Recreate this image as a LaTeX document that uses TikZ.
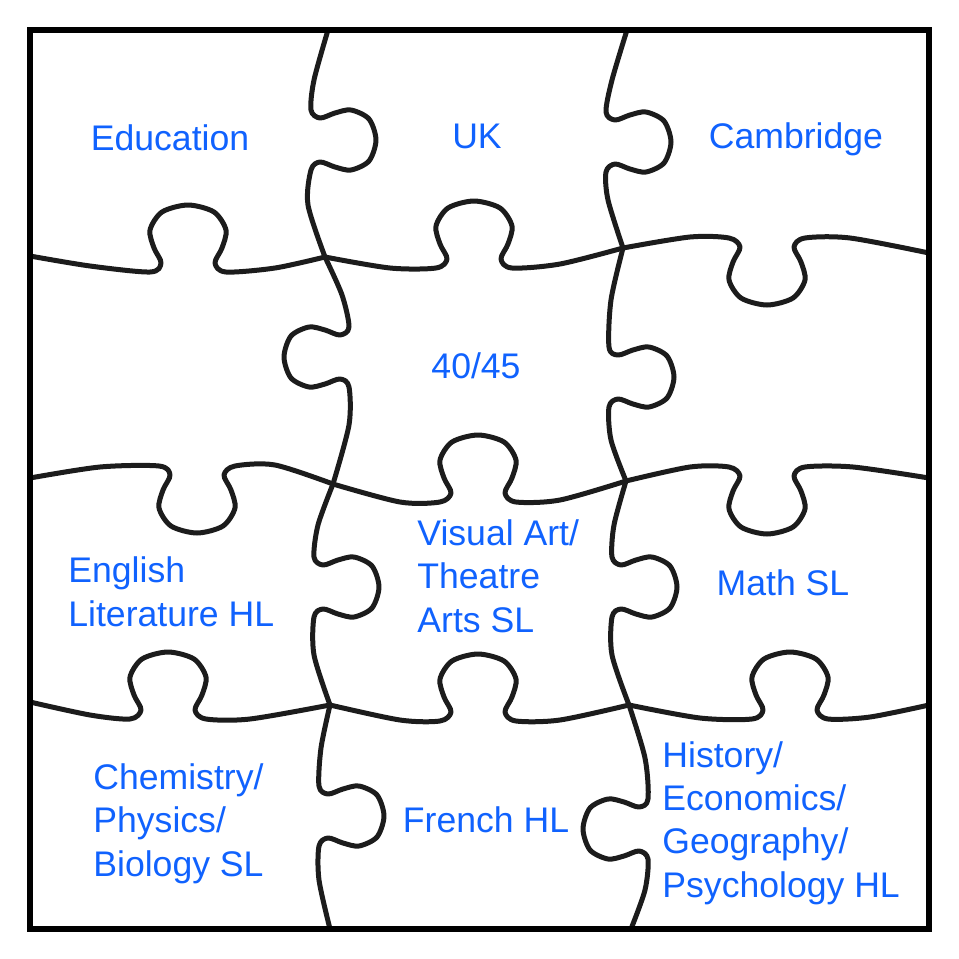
\documentclass[tikz,border=0pt]{standalone}
\usepackage{fontspec}
\setmainfont{Liberation Sans}
\usepackage{tikz}
\definecolor{puzzleblue}{RGB}{16,98,254}
\definecolor{seamgray}{RGB}{28,28,28}

\begin{document}
\begin{tikzpicture}[x=0.5pt, y=-0.5pt,
    seam/.style={seamgray, line width=2.5pt, line cap=round, line join=round},
    piecetext/.style={text=puzzleblue, inner sep=0pt, align=left, font=\fontsize{17.8}{21.65}\selectfont}]
            \useasboundingbox (0,0) rectangle (959,959);

            \coordinate (J11) at (325,257);
            \coordinate (J12) at (623,248);
            \coordinate (J21) at (333,484);
            \coordinate (J22) at (626,481);
            \coordinate (J31) at (330,705);
            \coordinate (J32) at (629,705);
            \coordinate (T1) at (328,30);
            \coordinate (T2) at (627,30);
            \coordinate (B1) at (330,929);
            \coordinate (B2) at (631,929);
            \coordinate (L1) at (30,256);
            \coordinate (L2) at (30,478);
            \coordinate (L3) at (30,702);
            \coordinate (R1) at (929,253);
            \coordinate (R2) at (929,478);
            \coordinate (R3) at (929,705);

            \draw[seam] plot[smooth] coordinates {(L1) (90,266) (150,272) (161,263) (154,248) (150,230) (162,212) (188,205) (214,212) (226,230) (222,248) (215,263) (226,272) (275,268) (J11)};
            \draw[seam] plot[smooth] coordinates {(J11) (390,268) (436,268) (447,259) (440,244) (436,226) (448,208) (474,201) (500,208) (512,226) (508,244) (501,259) (512,268) (560,264) (J12)};
            \draw[seam] plot[smooth] coordinates {(J12) (690,237) (729,238) (740,247) (733,262) (729,280) (741,298) (767,305) (793,298) (805,280) (801,262) (794,247) (805,238) (850,238) (R1)};
            \draw[seam] plot[smooth] coordinates {(L2) (100,467) (159,466) (170,475) (163,490) (159,508) (171,526) (197,533) (223,526) (235,508) (231,490) (224,475) (235,466) (275,465) (J21)};
            \draw[seam] plot[smooth] coordinates {(J21) (400,502) (440,502) (451,493) (444,478) (440,460) (452,442) (478,435) (504,442) (516,460) (512,478) (505,493) (516,502) (560,500) (J22)};
            \draw[seam] plot[smooth] coordinates {(J22) (690,467) (729,467) (740,476) (733,491) (729,509) (741,527) (767,534) (793,527) (805,509) (801,491) (794,476) (805,467) (853,467) (R2)};
            \draw[seam] plot[smooth] coordinates {(L3) (90,715) (130,719) (141,710) (134,695) (130,677) (142,659) (168,652) (194,659) (206,677) (202,695) (195,710) (206,719) (250,719) (J31)};
            \draw[seam] plot[smooth] coordinates {(J31) (400,720) (440,721) (451,712) (444,697) (440,679) (452,661) (478,654) (504,661) (516,679) (512,697) (505,712) (516,721) (560,720) (J32)};
            \draw[seam] plot[smooth] coordinates {(J32) (700,718) (752,719) (763,710) (756,695) (752,677) (764,659) (790,652) (816,659) (828,677) (824,695) (817,710) (828,719) (870,717) (R3)};

            \draw[seam] plot[smooth] coordinates {(T1) (314,80) (311,110) (320,118) (335,113) (351,110) (369,119) (376,140) (369,161) (351,170) (335,167) (320,162) (311,170) (308,205) (J11)};
            \draw[seam] plot[smooth] coordinates {(T2) (612,80) (606,112) (615,120) (630,115) (646,112) (664,121) (671,142) (664,163) (646,172) (630,169) (615,164) (606,172) (608,200) (J12)};
            \draw[seam] plot[smooth] coordinates {(J11) (342,295) (349,327) (340,335) (325,330) (309,327) (291,336) (284,357) (291,378) (309,387) (325,384) (340,379) (349,387) (349,425) (J21)};
            \draw[seam] plot[smooth] coordinates {(J12) (611,300) (609,347) (618,355) (633,350) (649,347) (667,356) (674,377) (667,398) (649,407) (633,404) (618,399) (609,407) (611,440) (J22)};
            \draw[seam] plot[smooth] coordinates {(J21) (318,525) (314,557) (323,565) (338,560) (354,557) (372,566) (379,587) (372,608) (354,617) (338,614) (323,609) (314,617) (314,655) (J31)};
            \draw[seam] plot[smooth] coordinates {(J22) (614,525) (612,557) (621,565) (636,560) (652,557) (670,566) (677,587) (670,608) (652,617) (636,614) (621,609) (612,617) (612,655) (J32)};
            \draw[seam] plot[smooth] coordinates {(J31) (321,748) (319,786) (328,794) (343,789) (359,786) (377,795) (384,816) (377,837) (359,846) (343,843) (328,838) (319,846) (319,880) (B1)};
            \draw[seam] plot[smooth] coordinates {(J32) (645,758) (648,799) (639,807) (624,802) (608,799) (590,808) (583,829) (590,850) (608,859) (624,856) (639,851) (648,859) (645,890) (B2)};

            \draw[black, line width=3pt] (30,30) rectangle (929,929);

            \node[piecetext, anchor=base] (education) at (170,150) {Education};
            \node[piecetext, anchor=base] (uk) at (477,148) {UK};
            \node[piecetext, anchor=base] (cambridge) at (796,148) {Cambridge};
            \node[piecetext, anchor=base] (score) at (476,378) {40/45};
            \node[piecetext, anchor=base west] (english) at (68,626) {English\\Literature HL};
            \node[piecetext, anchor=base west] (arts) at (417,632) {Visual Art/\\Theatre\\Arts SL};
            \node[piecetext, anchor=base] (math) at (783,595) {Math SL};
            \node[piecetext, anchor=base west] (sciences) at (93,876) {Chemistry/\\Physics/\\Biology SL};
            \node[piecetext, anchor=base] (french) at (486,832) {French HL};
            \node[piecetext, anchor=base west] (humanities) at (662,897) {History/\\Economics/\\Geography/\\Psychology HL};
        \end{tikzpicture}
\end{document}
